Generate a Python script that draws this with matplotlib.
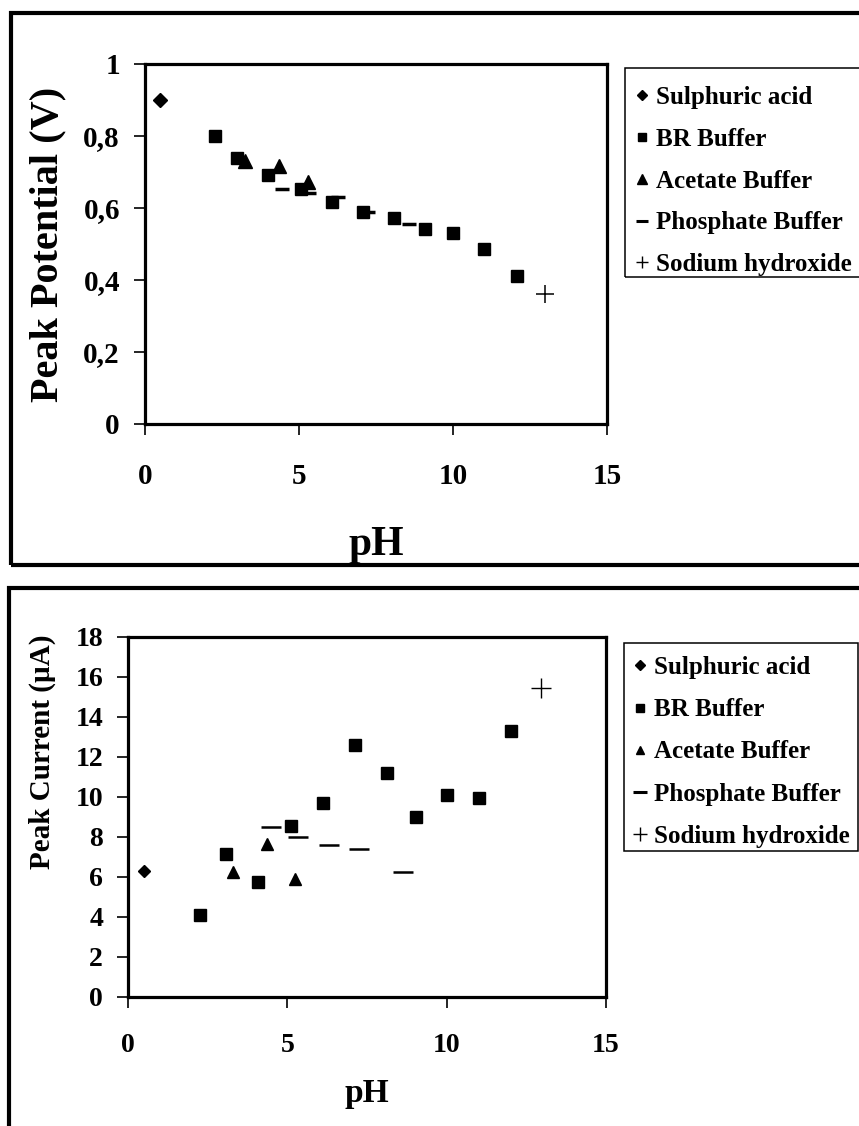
import matplotlib
matplotlib.use("Agg")
import matplotlib.pyplot as plt
from matplotlib.lines import Line2D
from matplotlib.patches import Rectangle

plt.rcParams['font.family'] = ['Liberation Serif', 'DejaVu Serif']
plt.rcParams['font.weight'] = 'bold'

# peak potential vs pH
sulph_ph = [0.5]
sulph_ep = [0.90]
br_ph = [2.27, 3.0, 4.0, 5.06, 6.07, 7.08, 8.08, 9.09, 10.0, 11.0, 12.08]
br_ep = [0.80, 0.739, 0.692, 0.653, 0.617, 0.589, 0.572, 0.542, 0.531, 0.486, 0.411]
acet_ph = [3.25, 4.35, 5.29]
acet_ep = [0.731, 0.717, 0.672]
phos_ph = [4.45, 5.33, 6.27, 7.24, 8.57]
phos_ep = [0.653, 0.641, 0.631, 0.589, 0.556]
naoh_ph = [13.0]
naoh_ep = [0.361]

# peak current vs pH
sulph_ph2 = [0.5]
sulph_ip = [6.3]
br_ph2 = [2.26, 3.07, 4.08, 5.11, 6.12, 7.12, 8.12, 9.04, 10.0, 11.0, 12.02]
br_ip = [4.1, 7.15, 5.75, 8.55, 9.7, 12.6, 11.2, 9.0, 10.1, 9.95, 13.3]
acet_ph2 = [3.29, 4.36, 5.24]
acet_ip = [6.25, 7.65, 5.9]
phos_ph2 = [4.5, 5.33, 6.3, 7.25, 8.63]
phos_ip = [8.5, 8.0, 7.6, 7.4, 6.25]
naoh_ph2 = [12.96]
naoh_ip = [15.45]

labels = ['Sulphuric acid', 'BR Buffer', 'Acetate Buffer', 'Phosphate Buffer', 'Sodium hydroxide']

W, H = 859, 1126
fig = plt.figure(figsize=(W / 100, H / 100), dpi=100)


def px_axes(l, t, r, b):
    return fig.add_axes([l / W, 1 - b / H, (r - l) / W, (b - t) / H])


def px_frame(l, t, r, b, lw=3):
    fig.patches.append(Rectangle((l / W, 1 - b / H), (r - l) / W, (b - t) / H,
                                 transform=fig.transFigure, fill=False,
                                 lw=lw, ec='black', clip_on=False))


def style(ax):
    for s in ax.spines.values():
        s.set_linewidth(2.3)
    ax.tick_params(direction='out', length=8, width=1.2)


def legend_handles(sq, tri, dash, plus, dia):
    return [
        Line2D([], [], ls='none', marker='D', ms=dia, color='black'),
        Line2D([], [], ls='none', marker='s', ms=sq, color='black'),
        Line2D([], [], ls='none', marker='^', ms=tri, color='black'),
        Line2D([], [], ls='none', marker='_', ms=dash, mew=2.2, color='black'),
        Line2D([], [], ls='none', marker='+', ms=plus, mew=1.0, color='black'),
    ]


def add_legend(handles, x0, y0, spacing):
    fig.legend(handles, labels, loc='upper left',
               bbox_to_anchor=(x0 / W, 1 - y0 / H), bbox_transform=fig.transFigure,
               prop={'size': 18, 'weight': 'bold'}, frameon=False,
               handlelength=0.5, handletextpad=0.32,
               labelspacing=spacing, borderpad=0, borderaxespad=0)


# ---------------- top panel ----------------
px_frame(11, 13, 880, 565)
ax1 = px_axes(145, 64, 607, 424)
ax1.plot(sulph_ph, sulph_ep, 'D', color='black', ms=7.5)
ax1.plot(br_ph, br_ep, 's', color='black', ms=8.5)
ax1.plot(acet_ph, acet_ep, '^', color='black', ms=10.5)
ax1.plot(phos_ph, phos_ep, '_', color='black', ms=10, mew=2.5)
ax1.plot(naoh_ph, naoh_ep, '+', color='black', ms=13, mew=1.1)
ax1.set_xlim(0, 15)
ax1.set_ylim(0, 1)
ax1.set_xticks([0, 5, 10, 15])
ax1.set_yticks([0, 0.2, 0.4, 0.6, 0.8, 1])
ax1.set_yticklabels(['0', '0,2', '0,4', '0,6', '0,8', '1'])
style(ax1)
ax1.tick_params(axis='x', labelsize=21, pad=20)
ax1.tick_params(axis='y', labelsize=21, pad=10)
ax1.set_xlabel('pH', fontsize=30, fontweight='bold', labelpad=26)
ax1.set_ylabel('Peak Potential (V)', fontsize=29, fontweight='bold', labelpad=12)

px_frame(625, 68, 875, 277, lw=1.1)
add_legend(legend_handles(6, 7, 8, 8, 5), 636, 86, 0.75)

# ---------------- bottom panel ----------------
px_frame(9, 588, 880, 1150)
ax2 = px_axes(128, 637, 606, 997)
ax2.plot(sulph_ph2, sulph_ip, 'D', color='black', ms=6.5)
ax2.plot(br_ph2, br_ip, 's', color='black', ms=8.5)
ax2.plot(acet_ph2, acet_ip, '^', color='black', ms=8)
ax2.plot(phos_ph2, phos_ip, '_', color='black', ms=15, mew=1.8)
ax2.plot(naoh_ph2, naoh_ip, '+', color='black', ms=14, mew=1.0)
ax2.set_xlim(0, 15)
ax2.set_ylim(0, 18)
ax2.set_xticks([0, 5, 10, 15])
ax2.set_yticks(range(0, 19, 2))
style(ax2)
ax2.tick_params(axis='x', labelsize=20, pad=18)
ax2.tick_params(axis='y', labelsize=20, pad=10)
ax2.set_xlabel('pH', fontsize=24, fontweight='bold', labelpad=14)
ax2.set_ylabel('Peak Current (\u00b5A)', fontsize=21, fontweight='bold')
ax2.yaxis.set_label_coords(-0.15, 0.68)

px_frame(624, 643, 858, 851, lw=1.1)
add_legend(legend_handles(6, 6, 10, 10, 5), 634, 656, 0.77)

fig.savefig('out.png', dpi=100)
